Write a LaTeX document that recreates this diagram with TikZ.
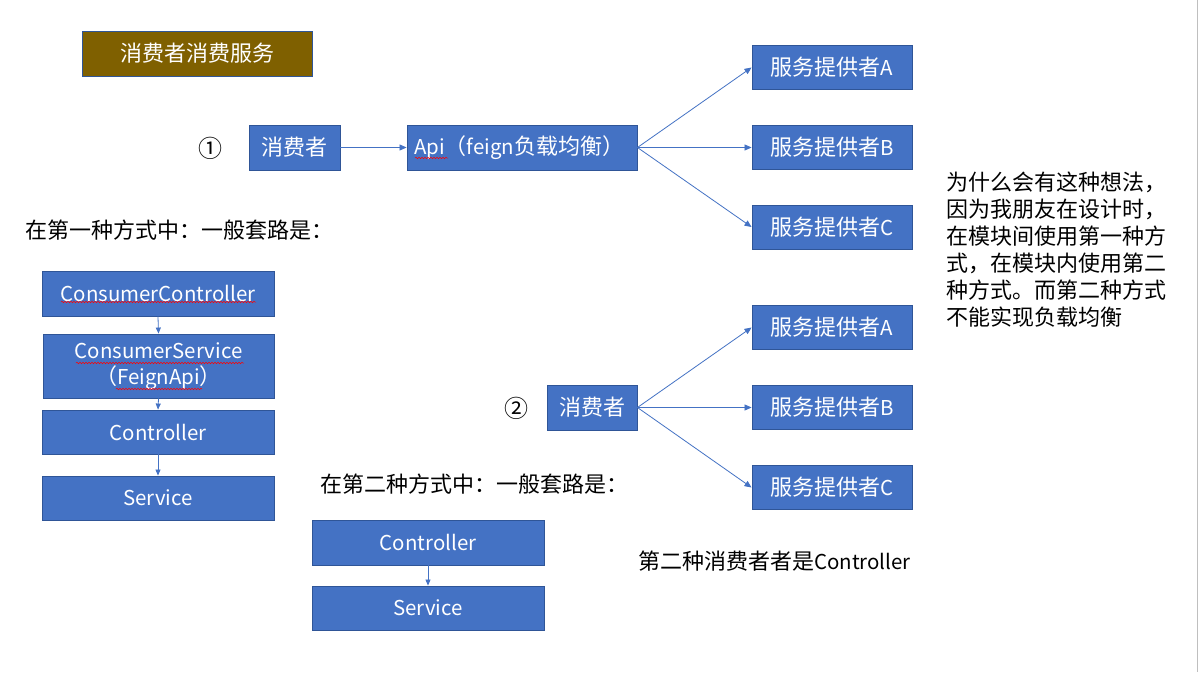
\documentclass[tikz,border=0pt]{standalone}
\usepackage{fontspec}
\setmainfont{Noto Sans CJK SC}
\newfontfamily\lat{Noto Sans CJK SC}[Scale=0.93]
\usetikzlibrary{arrows.meta,decorations.pathmorphing}
\definecolor{boxblue}{HTML}{4472C4}
\definecolor{boxedge}{HTML}{2F5597}
\definecolor{titlebrown}{HTML}{7F6000}
\tikzset{
  bx/.style={draw=boxedge, fill=boxblue, text=white, line width=0.9pt, inner sep=0pt, font=\fontsize{22}{26}\selectfont},
  arr/.style={draw=boxblue, line width=0.8pt, -{Triangle[length=7pt,width=6pt]}},
  sarr/.style={arr, -{Triangle[length=6pt,width=5pt]}},
  txt/.style={font=\fontsize{22}{27}\selectfont, inner sep=0pt, anchor=west},
  squig/.style={draw=red, line width=0.5pt, decorate, decoration={snake, amplitude=0.8pt, segment length=3pt}}
}
\begin{document}
\begin{tikzpicture}[x=1pt,y=-1pt]
\useasboundingbox[fill=white] (0,0) rectangle (1201,672);
\draw[gray!50, line width=1.5pt] (1197.5,0) -- (1197.5,672);

% title
\node[bx, fill=titlebrown, minimum width=230, minimum height=45] (title) at (197,53.5) {消费者消费服务};

% scheme 1
\node[txt, anchor=center, font=\fontsize{24}{27}\selectfont] (n1) at (210,148) {①};
\node[bx, minimum width=91, minimum height=45] (c1) at (294.5,147.5) {消费者};
\node[bx, minimum width=230, minimum height=45, text width=216, align=left] (api) at (522,147.5) {{\lat Api}（{\lat feign}负载均衡）};
\node[bx, minimum width=160, minimum height=44] (pa1) at (832,67.5) {服务提供者{\lat A}};
\node[bx, minimum width=160, minimum height=44] (pb1) at (832,147.5) {服务提供者{\lat B}};
\node[bx, minimum width=160, minimum height=44] (pc1) at (832,227) {服务提供者{\lat C}};
\draw[arr] (c1.east) -- (api.west);
\draw[arr] (api.east) -- (pa1.west);
\draw[arr] (api.east) -- (pb1.west);
\draw[arr] (api.east) -- (pc1.west);

% scheme 2
\node[txt, anchor=center, font=\fontsize{24}{27}\selectfont] (n2) at (516,408) {②};
\node[bx, minimum width=90, minimum height=45] (c2) at (592,407.5) {消费者};
\node[bx, minimum width=160, minimum height=44] (pa2) at (832,327.5) {服务提供者{\lat A}};
\node[bx, minimum width=160, minimum height=44] (pb2) at (832,407.5) {服务提供者{\lat B}};
\node[bx, minimum width=160, minimum height=44] (pc2) at (832,487.5) {服务提供者{\lat C}};
\draw[arr] (c2.east) -- (pa2.west);
\draw[arr] (c2.east) -- (pb2.west);
\draw[arr] (c2.east) -- (pc2.west);

% left stack
\node[txt] (t1) at (25,230) {在第一种方式中：一般套路是：};
\node[bx, minimum width=232, minimum height=45] (cc) at (158,293.5) {\lat ConsumerController};
\node[bx, minimum width=231, minimum height=64, align=center, font=\fontsize{22}{26}\selectfont] (cs) at (158.5,366) {{\lat ConsumerService}\\（{\lat FeignApi}）};
\node[bx, minimum width=232, minimum height=44] (ctl) at (158,432) {\lat Controller};
\node[bx, minimum width=232, minimum height=44] (svc) at (158,498) {\lat Service};
\draw[sarr] (cc.south) -- (cs.north);
\draw[sarr] (cs.south) -- (ctl.north);
\draw[sarr] (ctl.south) -- (svc.north);

% second stack
\node[txt] (t2) at (320,484) {在第二种方式中：一般套路是：};
\node[bx, minimum width=232, minimum height=45] (ctl2) at (428,542.5) {\lat Controller};
\node[bx, minimum width=232, minimum height=44] (svc2) at (428,608) {\lat Service};
\draw[sarr] (ctl2.south) -- (svc2.north);

\node[txt] (t3) at (638,561) {第二种消费者者是{\lat Controller}};

% right note
\node[txt, anchor=north west, align=left] (note) at (946,172) {为什么会有这种想法，\\因为我朋友在设计时，\\在模块间使用第一种方\\式，在模块内使用第二\\种方式。而第二种方式\\不能实现负载均衡};

% spell-check squiggles
\draw[squig] (415,158) -- (448,158);
\draw[squig] (61,302) -- (256,302);
\draw[squig] (76,363) -- (244,363);
\draw[squig] (116,389) -- (202,389);
\end{tikzpicture}
\end{document}
